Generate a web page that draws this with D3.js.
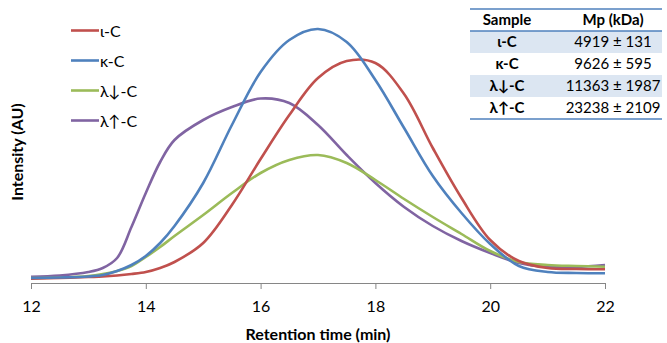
<!DOCTYPE html>
<html>
<head>
<meta charset="utf-8">
<script src="https://cdn.jsdelivr.net/npm/d3@7/dist/d3.min.js"></script>
<style>
  body { margin: 0; background: #fff; }
  svg { display: block; font-family: Lato, "Open Sans", sans-serif; }
</style>
</head>
<body>
<div id="chart"></div>
<script>
`use strict`;

const times = [12, 12.5, 13, 13.25, 13.5, 13.75, 14, 14.25, 14.5, 15, 15.5, 16, 16.5, 17, 17.5, 18, 18.5, 19, 19.5, 20, 20.5, 21, 21.5, 22];

const iotaC   = [4.3, 5, 6, 6.5, 7.5, 9, 11, 15, 21, 40, 78, 124, 168, 205, 222, 220, 189, 135, 85, 43, 22, 15, 14, 13.7];
const kappaC  = [5, 5.5, 6.5, 8, 12, 18, 27, 40, 57, 100, 158, 211, 243, 254, 241, 203, 155, 107, 70, 39, 17, 11, 10, 9.7];
const lamDown = [5, 5.5, 7, 9, 12, 17, 26, 36, 47, 68, 90, 110, 123, 128, 120, 103, 84, 66, 49, 32, 21, 18, 17, 16.3];
const lamUp   = [6.3, 7.5, 11, 15, 25, 56, 90, 121, 143, 163, 176, 184.5, 180, 158, 128, 100, 76, 57, 42, 30, 20, 16, 16, 18];

const seriesNames = [`ι-C`, `κ-C`, `λ↓-C`, `λ↑-C`];
const seriesColors = [`#c0504d`, `#4f81bd`, `#9bbb59`, `#8064a2`];

const xTicks = [12, 14, 16, 18, 20, 22];

const tableHead = [`Sample`, `Mp (kDa)`];
const tableSamples = [`ι-C`, `κ-C`, `λ↓-C`, `λ↑-C`];
const tableMp = [`4919 ± 131`, `9626 ± 595`, `11363 ± 1987`, `23238 ± 2109`];

(function () {

  const W = 667, H = 343;

  const svg = d3.select(`#chart`).append(`svg`)
    .attr(`width`, W)
    .attr(`height`, H);

  let x = d3.scaleLinear().domain([12, 22]).range([31, 605]);

  let y = d3.scaleLinear().domain([0, 260]).range([283, 23]);

  // x axis, ticks pointing down
  let xAxis = svg.append(`g`)
    .attr(`transform`, `translate(0,${y(0)})`)
    .call(d3.axisBottom(x).tickValues(xTicks).tickSize(6).tickSizeOuter(0).tickPadding(12));

  xAxis.select(`.domain`).attr(`stroke`, `#868686`);
  xAxis.selectAll(`.tick line`).attr(`stroke`, `#868686`);
  xAxis.selectAll(`.tick text`)
    .style(`font-size`, `16px`)
    .style(`fill`, `#000`)
    .style(`font-family`, `Lato, "Open Sans", sans-serif`);

  svg.append(`text`)
    .attr(`x`, 318)
    .attr(`y`, 340)
    .attr(`text-anchor`, `middle`)
    .style(`font-size`, `16px`)
    .style(`font-weight`, `bold`)
    .text(`Retention time (min)`);

  svg.append(`text`)
    .attr(`transform`, `translate(23,152) rotate(-90)`)
    .attr(`text-anchor`, `middle`)
    .style(`font-size`, `16px`)
    .style(`font-weight`, `bold`)
    .text(`Intensity (AU)`);

  // curves
  let line = d3.line()
    .x(d => x(d[0]))
    .y(d => y(d[1]))
    .curve(d3.curveCatmullRom.alpha(0.5));

  let allSeries = [iotaC, kappaC, lamDown, lamUp];

  [3, 2, 0, 1].forEach(i => {
    svg.append(`path`)
      .datum(times.map((t, j) => [t, allSeries[i][j]]))
      .attr(`d`, line)
      .attr(`fill`, `none`)
      .attr(`stroke`, seriesColors[i])
      .attr(`stroke-width`, 2.6);
  });

  // legend
  let legend = svg.append(`g`);

  seriesNames.forEach((name, i) => {

    let ly = 30.5 + i * 30;

    legend.append(`line`)
      .attr(`x1`, 71).attr(`x2`, 99)
      .attr(`y1`, ly).attr(`y2`, ly)
      .attr(`stroke`, seriesColors[i])
      .attr(`stroke-width`, 2.6);

    legend.append(`text`)
      .attr(`x`, 100)
      .attr(`y`, ly + 6)
      .style(`font-size`, `16px`)
      .text(name);
  });

  // table
  let tb = svg.append(`g`);

  let tx0 = 470, tx1 = 662, rowH = 22, ty0 = 9;

  tableSamples.forEach((s, i) => {
    if (i % 2 === 0) {
      tb.append(`rect`)
        .attr(`x`, tx0)
        .attr(`y`, ty0 + rowH * (i + 1))
        .attr(`width`, tx1 - tx0)
        .attr(`height`, rowH)
        .attr(`fill`, `#dce6f2`);
    }
  });

  [ty0, ty0 + rowH, ty0 + rowH * 5].forEach(ly => {
    tb.append(`line`)
      .attr(`x1`, tx0).attr(`x2`, tx1)
      .attr(`y1`, ly).attr(`y2`, ly)
      .attr(`stroke`, `#4f81bd`)
      .attr(`stroke-width`, 1.5);
  });

  tableHead.forEach((h, i) => {
    tb.append(`text`)
      .attr(`x`, i === 0 ? 507 : 613)
      .attr(`y`, ty0 + rowH / 2 + 5)
      .attr(`text-anchor`, `middle`)
      .style(`font-size`, `15px`)
      .style(`font-weight`, `bold`)
      .text(h);
  });

  tableSamples.forEach((s, i) => {

    let ry = ty0 + rowH * (i + 1) + rowH / 2 + 5;

    tb.append(`text`)
      .attr(`x`, 507)
      .attr(`y`, ry)
      .attr(`text-anchor`, `middle`)
      .style(`font-size`, `15px`)
      .style(`font-weight`, `bold`)
      .text(s);

    tb.append(`text`)
      .attr(`x`, 613)
      .attr(`y`, ry)
      .attr(`text-anchor`, `middle`)
      .style(`font-size`, `15px`)
      .text(tableMp[i]);
  });

})();
</script>
</body>
</html>
